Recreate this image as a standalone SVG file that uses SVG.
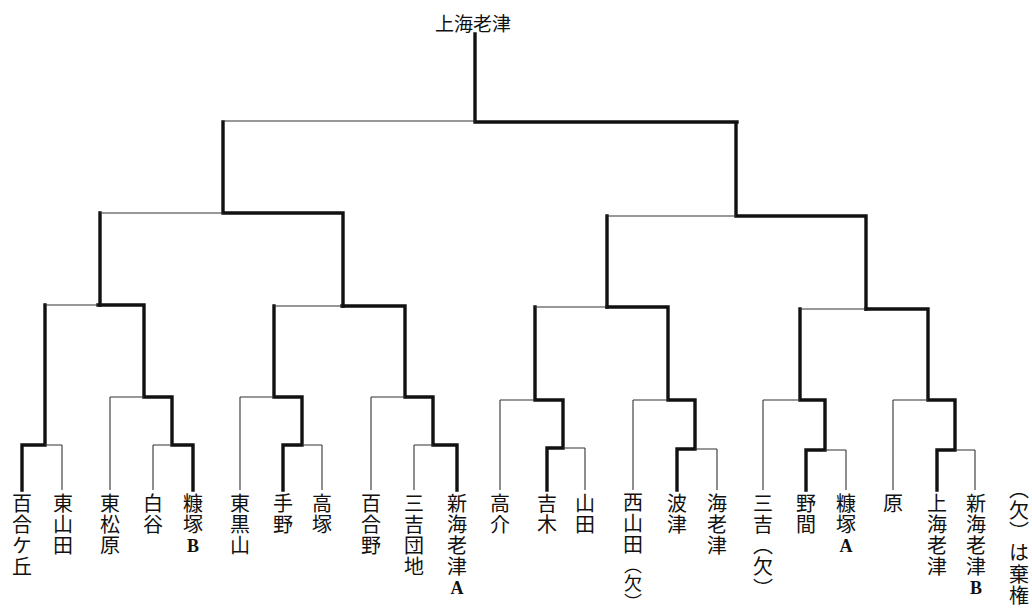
<svg xmlns="http://www.w3.org/2000/svg" width="1032" height="612" viewBox="0 0 1032 612">
<style>
.thick{stroke:#111;stroke-width:3.4;fill:none;stroke-linecap:square}
.thin{stroke:#333;stroke-width:1.1;fill:none}
.lb{font-family:"Noto Sans CJK JP","Noto Sans CJK SC",sans-serif;font-size:20px;text-anchor:middle;fill:#111}
.v{font-family:"Noto Sans CJK JP","Noto Sans CJK SC",sans-serif;font-size:20px;fill:#111;writing-mode:vertical-rl;text-orientation:upright;letter-spacing:1.3px}
.lt{font-family:"Liberation Serif",serif;font-weight:bold;font-size:18px}
</style>
<rect width="1032" height="612" fill="#fff"/>
<g id="connectors">
<path class="thick" d="M475 34V122M475 122H737M223 122V213M223 213H343M100 213V305M343 213V306M736 122V216M736 216H866M607 216V307M866 216V309"/>
<path class="thin" d="M223 121H475M100 213H223M607 216H736"/>
<path class="thick" d="M98 305H144M45 305V445M144 305V397M22 445H45M22 445V490M144 397H172M172 397V445M172 445H193M193 445V490"/>
<path class="thin" d="M45 305H98M45 445H62M62 445V490M110 397H144M110 397V490M153 445H172M153 445V490"/>
<path class="thick" d="M342 306H405M274 306V397M405 306V397M274 397H302M302 397V445M283 445H302M283 445V490M405 397H433M433 397V445M433 445H457M457 445V490"/>
<path class="thin" d="M274 306H342M240 397H274M240 397V490M302 445H322M322 445V490M371 397H405M371 397V490M414 445H433M414 445V490"/>
<path class="thick" d="M607 307H668M535 307V400M668 307V400M535 400H563M563 400V448M547 448H563M547 448V490M668 400H695M695 400V449M677 449H695M677 449V490"/>
<path class="thin" d="M535 307H607M500 400H535M500 400V490M563 448H585M585 448V490M633 400H668M633 400V490M695 449H717M717 449V490"/>
<path class="thick" d="M866 309H928M800 309V400M928 309V400M800 400H825M825 400V450M806 450H825M806 450V490M928 400H955M955 400V450M937 450H955M937 450V490"/>
<path class="thin" d="M800 309H866M763 400H800M763 400V490M825 450H846M846 450V490M893 400H928M893 400V490M955 450H975M975 450V490"/>
</g>
<g id="champion"><text class="lb" x="473" y="31" style="font-size:19px">上海老津</text></g>
<g id="t01"><text class="v" x="22" y="493">百合ケ丘</text></g>
<g id="t02"><text class="v" x="63" y="493">東山田</text></g>
<g id="t03"><text class="v" x="110" y="493">東松原</text></g>
<g id="t04"><text class="v" x="153" y="493">白谷</text></g>
<g id="t05"><text class="v" x="193" y="493">糠塚<tspan class="lt">B</tspan></text></g>
<g id="t06"><text class="v" x="240" y="493">東黒山</text></g>
<g id="t07"><text class="v" x="283" y="493">手野</text></g>
<g id="t08"><text class="v" x="322" y="493">高塚</text></g>
<g id="t09"><text class="v" x="371" y="493">百合野</text></g>
<g id="t10"><text class="v" x="414" y="493">三吉団地</text></g>
<g id="t11"><text class="v" x="457" y="493">新海老津<tspan class="lt">A</tspan></text></g>
<g id="t12"><text class="v" x="500" y="493">高介</text></g>
<g id="t13"><text class="v" x="547" y="493">吉木</text></g>
<g id="t14"><text class="v" x="585" y="493">山田</text></g>
<g id="t15"><text class="v" x="633" y="492">西山田<tspan style="font-size:18px;letter-spacing:0.4px">（欠）</tspan></text></g>
<g id="t16"><text class="v" x="677" y="493">波津</text></g>
<g id="t17"><text class="v" x="717" y="493">海老津</text></g>
<g id="t18"><text class="v" x="763" y="493">三吉（欠）</text></g>
<g id="t19"><text class="v" x="806" y="493">野間</text></g>
<g id="t20"><text class="v" x="846" y="493">糠塚<tspan class="lt">A</tspan></text></g>
<g id="t21"><text class="v" x="893" y="493">原</text></g>
<g id="t22"><text class="v" x="937" y="493">上海老津</text></g>
<g id="t23"><text class="v" x="976" y="493">新海老津<tspan class="lt">B</tspan></text></g>
<g id="note"><text class="v" x="1019" y="479">（欠）は棄権</text></g>
</svg>
